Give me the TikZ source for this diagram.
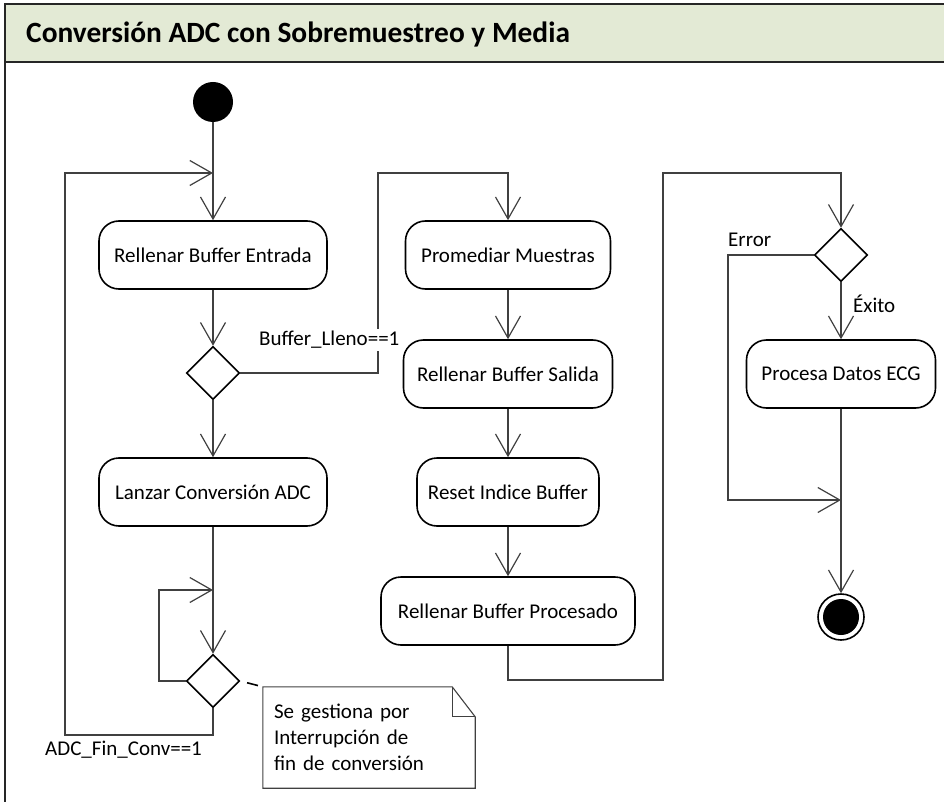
\documentclass[tikz,border=0pt]{standalone}
\usepackage{fontspec}
\setmainfont{Carlito}
\usetikzlibrary{arrows.meta,shapes.geometric,calc}

\definecolor{bandgreen}{HTML}{E3EAD5}
\definecolor{lineclr}{HTML}{404040}

\tikzset{
  action/.style={draw=black, line width=1.6pt, rounded corners=20pt,
    minimum height=68pt, inner sep=0pt, font=\fontsize{21}{25}\selectfont},
  decision/.style={draw=black, line width=1.6pt, diamond, aspect=1,
    minimum width=53pt, minimum height=53pt, inner sep=0pt},
  flow/.style={draw=lineclr, line width=1.2pt,
    -{Straight Barb[length=22pt,width=25pt,line width=1.2pt]}},
  plain/.style={draw=lineclr, line width=1.2pt},
  lbl/.style={font=\fontsize{21}{25}\selectfont, inner sep=0pt}
}

\begin{document}
\begin{tikzpicture}[x=1pt,y=-1pt]
  \clip (0,0) rectangle (944,802);

  % frame and title band
  \fill[bandgreen] (5,4) rectangle (960,62);
  \draw[black!85, line width=1.6pt] (5,4) rectangle (960,830);
  \draw[black!85, line width=1.6pt] (5,62) -- (960,62);
  \node[anchor=west, inner sep=0pt, font=\fontsize{29.4}{33}\selectfont\bfseries]
    (title) at (26,34) {Conversión ADC con Sobremuestreo y Media};

  % left column
  \node[circle, fill=black, minimum size=40pt, inner sep=0pt] (start) at (213,102) {};
  \node[action, minimum width=228pt] (entrada) at (213,255) {Rellenar Buffer Entrada};
  \node[decision] (dec1) at (213,373) {};
  \node[action, minimum width=228pt] (lanzar) at (213,492) {Lanzar Conversión ADC};
  \node[decision] (dec2) at (213,681) {};
  \coordinate (m1) at (213,173);
  \coordinate (m2) at (213,590);

  % middle column
  \node[action, minimum width=205pt] (prom) at (508,255) {Promediar Muestras};
  \node[action, minimum width=209pt] (salida) at (508,374) {Rellenar Buffer Salida};
  \node[action, minimum width=182pt] (reset) at (508,492) {Reset Indice Buffer};
  \node[action, minimum width=254pt] (proc) at (508,611) {Rellenar Buffer Procesado};

  % right column
  \node[decision] (dec3) at (841,255) {};
  \node[action, minimum width=189pt] (ecg) at (841,374) {Procesa Datos ECG};
  \node[circle, draw=black, line width=1.6pt, minimum size=46pt, inner sep=0pt,
    path picture={\fill[black] (path picture bounding box.center) circle (18pt);}]
    (final) at (841,617) {};
  \coordinate (m3) at (841,500);

  % note
  \node[minimum width=212pt, minimum height=101pt, text width=190pt, align=left,
    inner xsep=11pt, inner ysep=0pt, font=\fontsize{21}{26}\selectfont]
    (note) at (369,737.5) {Se gestiona por\\Interrupción de\\fin de conversión};
  \draw[lineclr, line width=1.1pt]
    (note.north west) -- ($(note.north east)+(-23,0)$)
    -- ($(note.north east)+(0,30)$) -- (note.south east)
    -- (note.south west) -- cycle;
  \draw[lineclr, line width=1.1pt]
    ($(note.north east)+(-23,0)$) -- ($(note.north east)+(-23,30)$)
    -- ($(note.north east)+(0,30)$);
  \draw[plain, black, line width=1.6pt, shorten <=7pt, shorten >=5pt]
    (dec2.east) -- (note.north west);

  % connectors, left column
  \draw[flow] (start) -- (entrada);
  \draw[flow] (entrada) -- (dec1);
  \draw[flow] (dec1) -- (lanzar);
  \draw[flow] (lanzar) -- (dec2);
  \draw[flow] (dec2.west) -| (159,590) -- (m2);
  \draw[flow] (dec2.south) -- (213,735) -| (65,173) -- (m1);
  \node[lbl, anchor=west] (lfin) at (45,750) {ADC\_Fin\_Conv==1};

  % connectors, middle column
  \draw[flow] (dec1.east) -| (378,173) -| (prom.north);
  \node[lbl, anchor=west, fill=white, inner ysep=2pt] (lleno) at (259,340) {Buffer\_Lleno==1};
  \draw[flow] (prom) -- (salida);
  \draw[flow] (salida) -- (reset);
  \draw[flow] (reset) -- (proc);
  \draw[flow] (proc.south) -- (508,680) -| (663,173) -| (dec3.north);

  % connectors, right column
  \draw[flow] (dec3.west) -| (728,500) -- (m3);
  \node[lbl, anchor=west] (lerr) at (728,240) {Error};
  \draw[flow] (dec3) -- (ecg);
  \node[lbl, anchor=west] (lexito) at (853,304) {Éxito};
  \draw[flow] (ecg) -- (final);
\end{tikzpicture}
\end{document}
